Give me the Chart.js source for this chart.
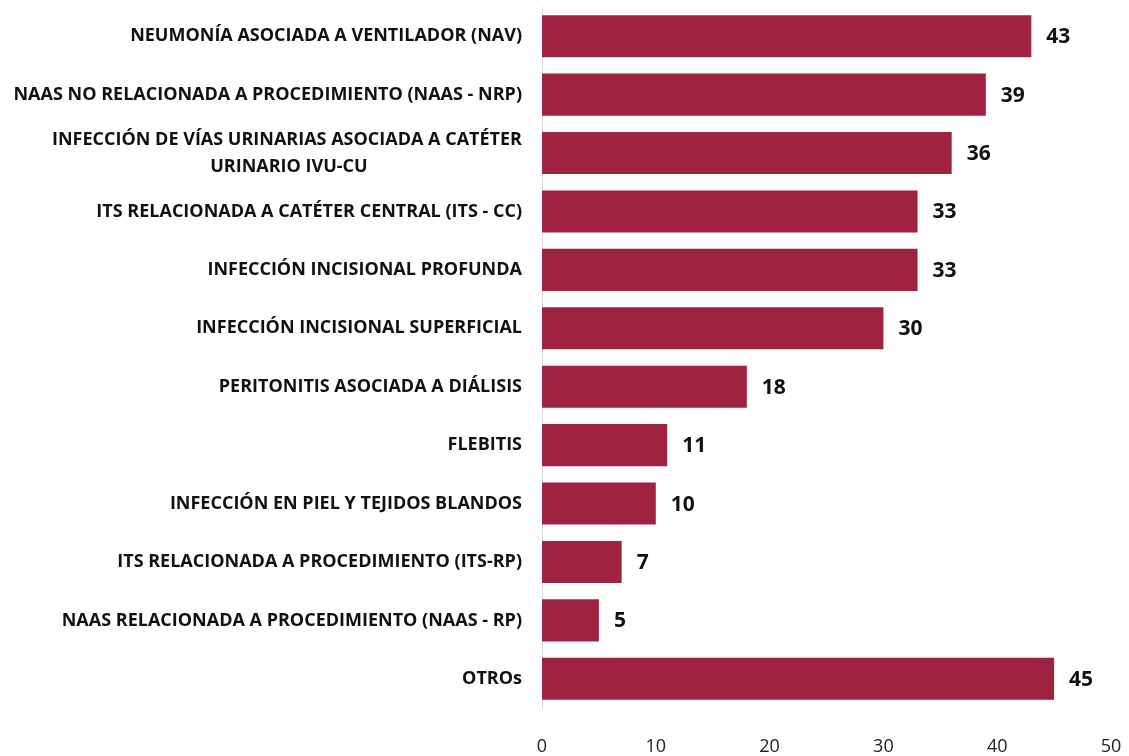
<!DOCTYPE html>
<html>
<head>
<meta charset="utf-8">
<script src="https://cdn.jsdelivr.net/npm/chart.js@4/dist/chart.umd.min.js"></script>
<style>
html,body{margin:0;padding:0;background:#fff;}
#wrap{width:1129px;height:756px;position:relative;}
</style>
</head>
<body>
<div id="wrap"><canvas id="c" width="1129" height="756"></canvas></div>
<script>
const categories = [
  "NEUMONÍA ASOCIADA A VENTILADOR (NAV)",
  "NAAS NO RELACIONADA A PROCEDIMIENTO (NAAS - NRP)",
  ["INFECCIÓN DE VÍAS URINARIAS ASOCIADA A CATÉTER", "URINARIO IVU-CU"],
  "ITS RELACIONADA A CATÉTER CENTRAL (ITS - CC)",
  "INFECCIÓN INCISIONAL PROFUNDA",
  "INFECCIÓN INCISIONAL SUPERFICIAL",
  "PERITONITIS ASOCIADA A DIÁLISIS",
  "FLEBITIS",
  "INFECCIÓN EN PIEL Y TEJIDOS BLANDOS",
  "ITS RELACIONADA A PROCEDIMIENTO (ITS-RP)",
  "NAAS RELACIONADA A PROCEDIMIENTO (NAAS - RP)",
  "OTROs"
];
const values = [43, 39, 36, 33, 33, 30, 18, 11, 10, 7, 5, 45];
const xTicks = [0, 10, 20, 30, 40, 50];

const FONT = "'Open Sans', 'Liberation Sans', sans-serif";
const LABEL_SIZE = 18;

// center the second line of multi-line labels under the first
function centerLines(lbl, ctx) {
  if (!Array.isArray(lbl)) return lbl;
  ctx.font = "bold " + LABEL_SIZE + "px " + FONT;
  const w0 = ctx.measureText(lbl[0]).width;
  return lbl.map((s, i) => {
    if (i === 0) return s;
    const w = ctx.measureText(s).width;
    const sp = ctx.measureText(" ").width;
    const n = Math.max(0, Math.round(((w0 - w) / 2) / sp));
    return s + " ".repeat(n);
  });
}
const mctx = document.createElement('canvas').getContext('2d');

const valueLabels = {
  id: 'valueLabels',
  afterDatasetsDraw(chart) {
    const ctx = chart.ctx;
    const meta = chart.getDatasetMeta(0);
    ctx.save();
    ctx.font = "bold 21px " + FONT;
    ctx.fillStyle = "#111";
    ctx.textAlign = "left";
    ctx.textBaseline = "middle";
    meta.data.forEach((bar, i) => {
      ctx.fillText(String(values[i]), bar.x + 15, bar.y + 1);
    });
    ctx.restore();
  }
};

function zeroPad(scale) {
  scale.paddingTop = 0; scale.paddingBottom = 0;
  scale.paddingLeft = 0; scale.paddingRight = 0;
}

document.fonts.load("bold 18px 'Open Sans'").then(() => {
const labelsFixed = categories.map(l => centerLines(l, mctx));
new Chart(document.getElementById('c'), {
  type: 'bar',
  data: {
    labels: labelsFixed,
    datasets: [{
      data: values,
      backgroundColor: '#9F2241',
      borderWidth: 0,
      categoryPercentage: 1,
      barPercentage: 0.72
    }]
  },
  options: {
    indexAxis: 'y',
    responsive: false,
    animation: false,
    layout: { padding: { top: 7, right: 18, bottom: 0, left: 0 } },
    plugins: { legend: { display: false }, tooltip: { enabled: false } },
    scales: {
      x: {
        min: 0, max: 50,
        afterBuildTicks(scale) { scale.ticks = xTicks.map(v => ({ value: v })); },
        grid: { display: false, drawTicks: false },
        border: { display: false },
        ticks: {
          padding: 28,
          color: '#222',
          font: { family: FONT, size: 18 },
          maxRotation: 0
        },
        afterFit(scale) { scale.height = 48; zeroPad(scale); }
      },
      y: {
        grid: { display: false, drawTicks: false },
        border: { display: true, color: '#d9d9d9', width: 1 },
        ticks: {
          padding: 20,
          color: '#111',
          font: { family: FONT, size: LABEL_SIZE, weight: 'bold', lineHeight: 1.5 },
          autoSkip: false
        },
        afterFit(scale) { scale.width = 542; zeroPad(scale); }
      }
    }
  },
  plugins: [valueLabels]
});
});
</script>
</body>
</html>
